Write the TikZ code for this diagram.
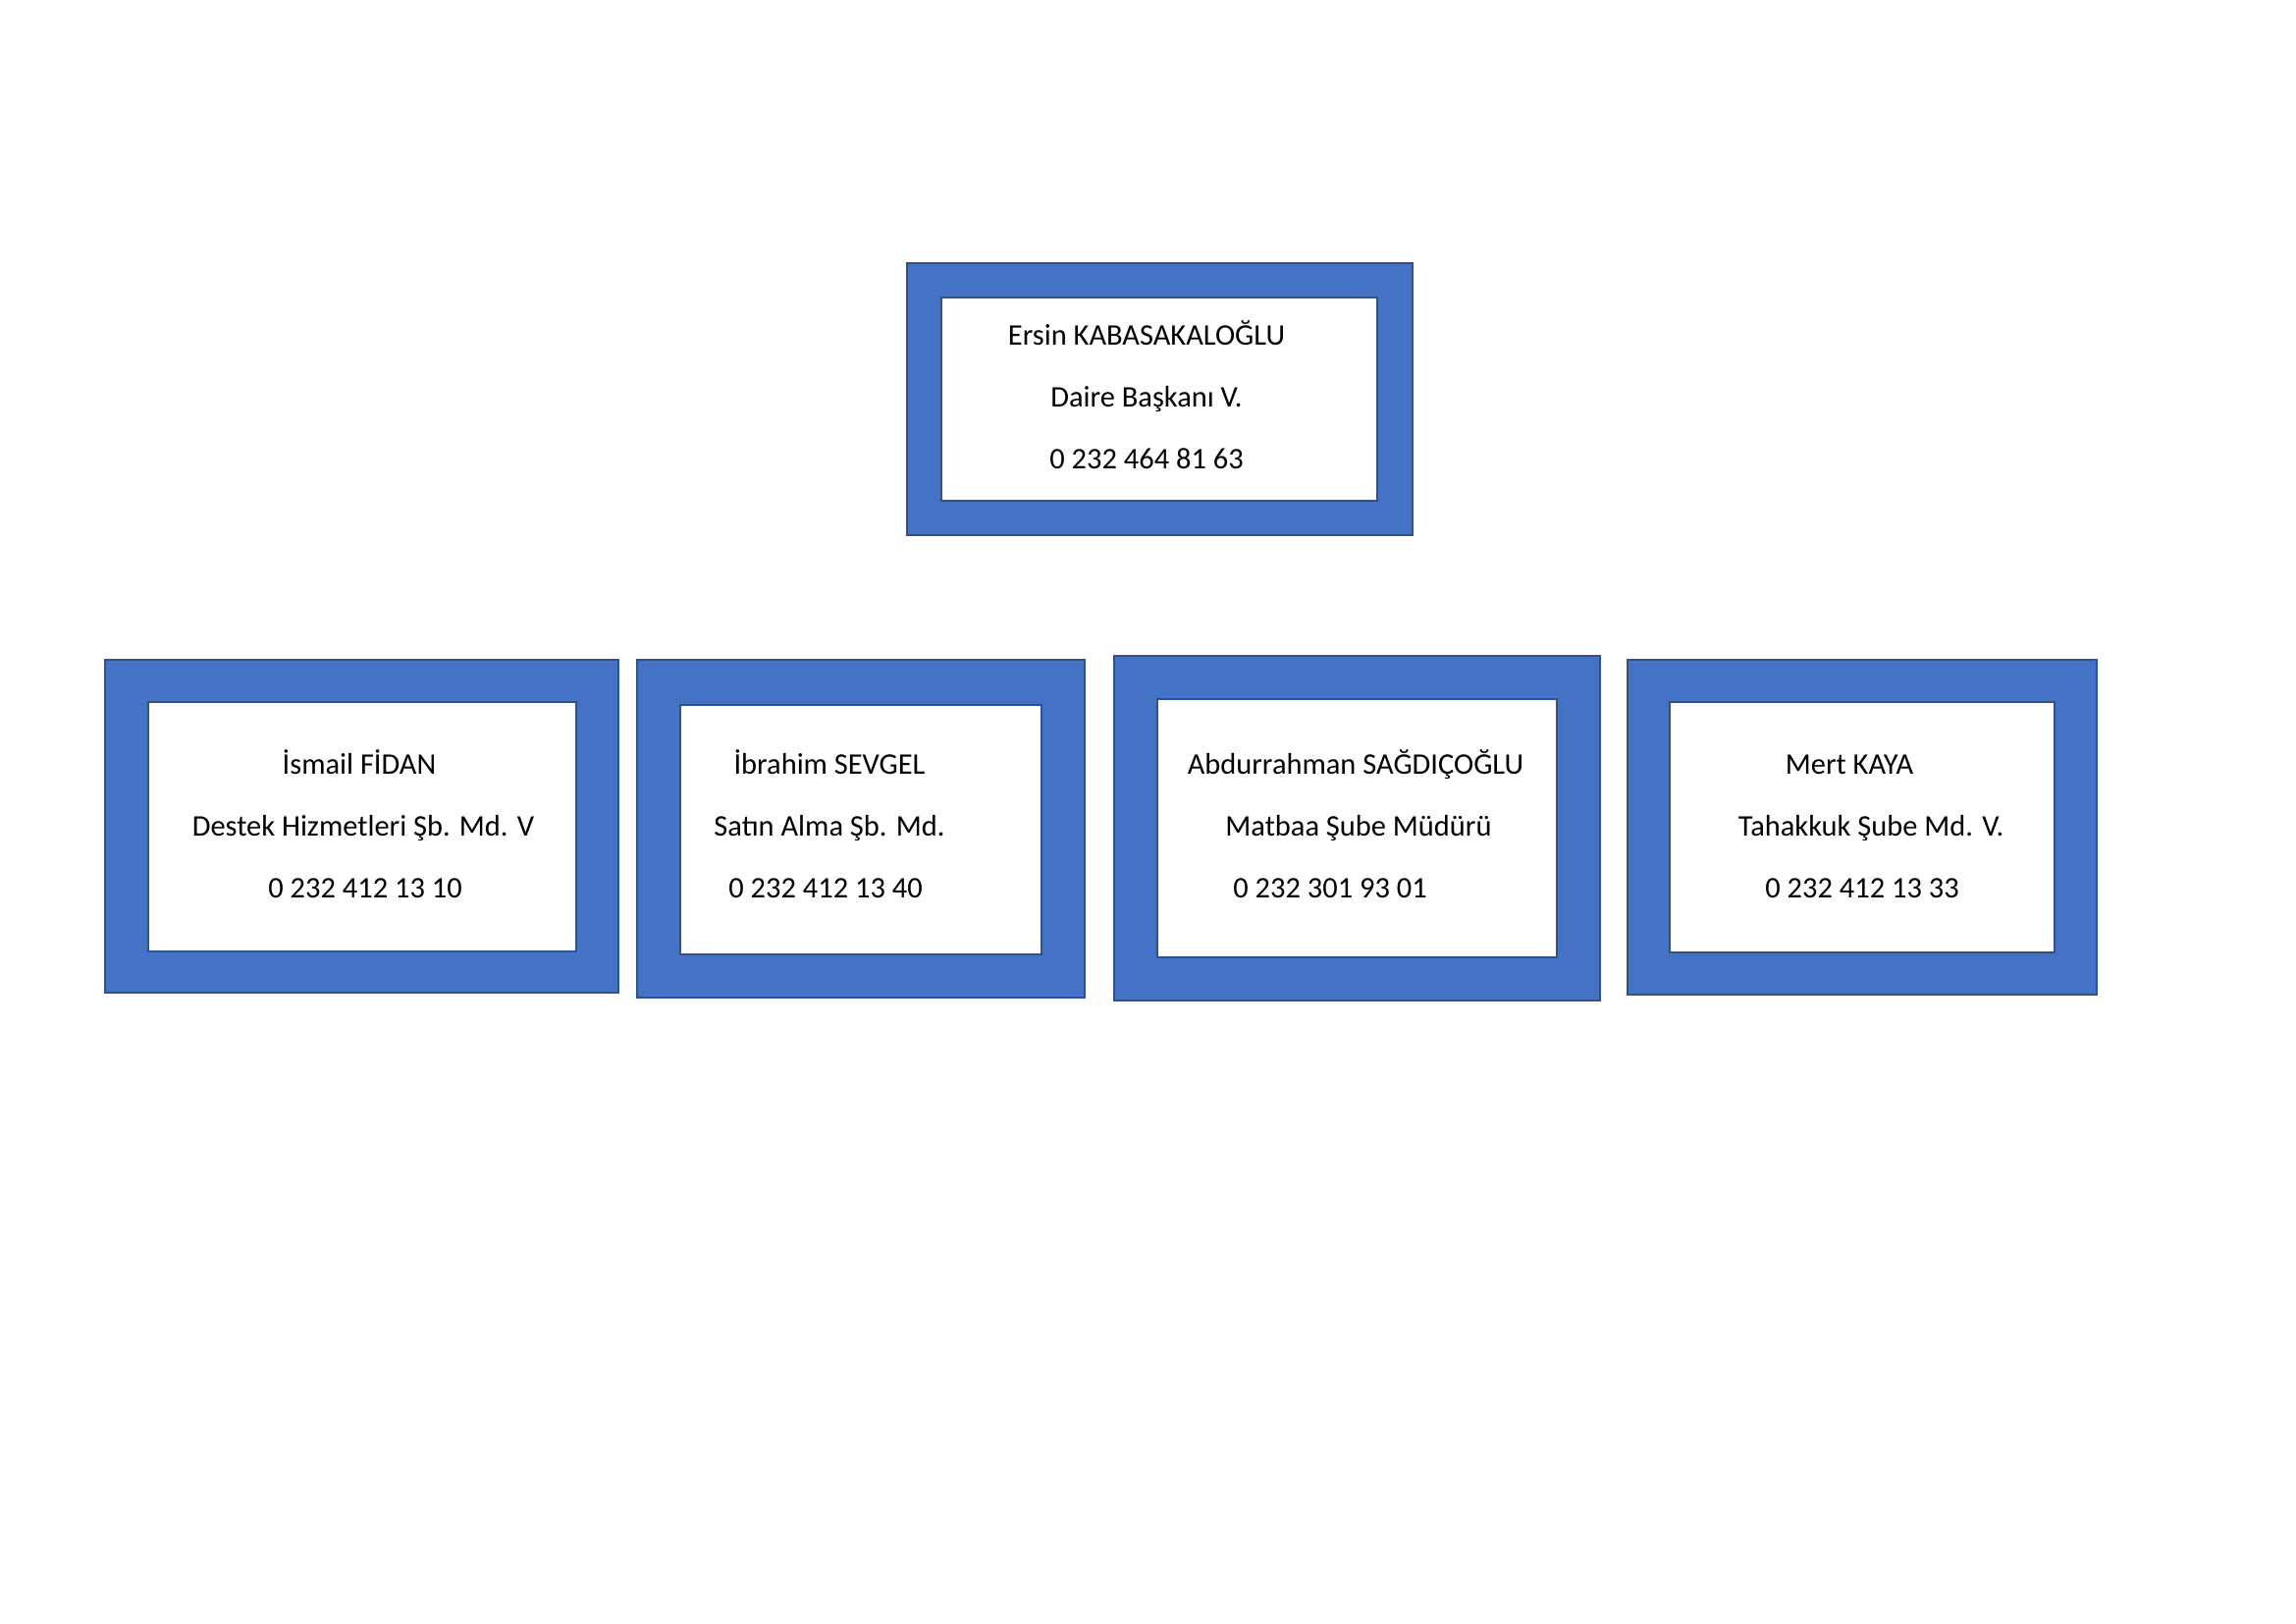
\documentclass[tikz,border=0pt]{standalone}
\usepackage{fontspec}
\setmainfont{Carlito}
\definecolor{boxblue}{HTML}{4472C4}
\definecolor{edgeblue}{HTML}{2F528F}
\tikzstyle{frame} = [rectangle, draw=edgeblue, line width=1pt, fill=boxblue, inner sep=0pt]
\tikzstyle{card} = [rectangle, draw=edgeblue, line width=1pt, fill=white, inner sep=0pt]
\tikzstyle{txt} = [anchor=base, inner sep=0pt, font=\fontsize{11}{13}\selectfont]

\begin{document}
\begin{tikzpicture}
\useasboundingbox (0,0) rectangle (29.7,-21);
% daire baskani
\node (ersinFrame) [frame, minimum width=6.539cm, minimum height=3.517cm] at (15.002,-5.162) {};
\node (ersin) [card, minimum width=5.638cm, minimum height=2.629cm] at (14.996,-5.162) {};
\node (ersinName) [txt] at (14.831,-4.457) {Ersin KABASAKALOĞLU};
\node (ersinTitle) [txt] at (14.831,-5.257) {Daire Başkanı V.};
\node (ersinTel) [txt] at (14.831,-6.057) {0 232 464 81 63};
% sube mudurleri
\node (ismailFrame) [frame, minimum width=6.641cm, minimum height=4.304cm] at (4.679,-10.685) {};
\node (ismail) [card, minimum width=5.537cm, minimum height=3.225cm] at (4.686,-10.691) {};
\node (ismailName) [txt] at (4.647,-10.006) {İsmail FİDAN};
\node (ismailTitle) [txt] at (4.698,-10.806) {Destek Hizmetleri Şb. Md. V};
\node (ismailTel) [txt] at (4.724,-11.606) {0 232 412 13 10};

\node (ibrahimFrame) [frame, minimum width=5.790cm, minimum height=4.368cm] at (11.136,-10.717) {};
\node (ibrahim) [card, minimum width=4.673cm, minimum height=3.225cm] at (11.136,-10.730) {};
\node (ibrahimName) [txt] at (10.730,-10.006) {İbrahim SEVGEL};
\node (ibrahimTitle) [txt] at (10.730,-10.806) {Satın Alma Şb. Md.};
\node (ibrahimTel) [txt] at (10.679,-11.606) {0 232 412 13 40};

\node (abdurrahmanFrame) [frame, minimum width=6.285cm, minimum height=4.457cm] at (17.555,-10.711) {};
\node (abdurrahman) [card, minimum width=5.168cm, minimum height=3.339cm] at (17.555,-10.711) {};
\node (abdurrahmanName) [txt] at (17.535,-10.006) {Abdurrahman SAĞDIÇOĞLU};
\node (abdurrahmanTitle) [txt] at (17.574,-10.806) {Matbaa Şube Müdürü};
\node (abdurrahmanTel) [txt] at (17.206,-11.606) {0 232 301 93 01};

\node (mertFrame) [frame, minimum width=6.069cm, minimum height=4.330cm] at (24.088,-10.698) {};
\node (mert) [card, minimum width=4.977cm, minimum height=3.238cm] at (24.088,-10.698) {};
\node (mertName) [txt] at (23.922,-10.006) {Mert KAYA};
\node (mertTitle) [txt] at (24.202,-10.806) {Tahakkuk Şube Md. V.};
\node (mertTel) [txt] at (24.088,-11.606) {0 232 412 13 33};
\end{tikzpicture}
\end{document}
